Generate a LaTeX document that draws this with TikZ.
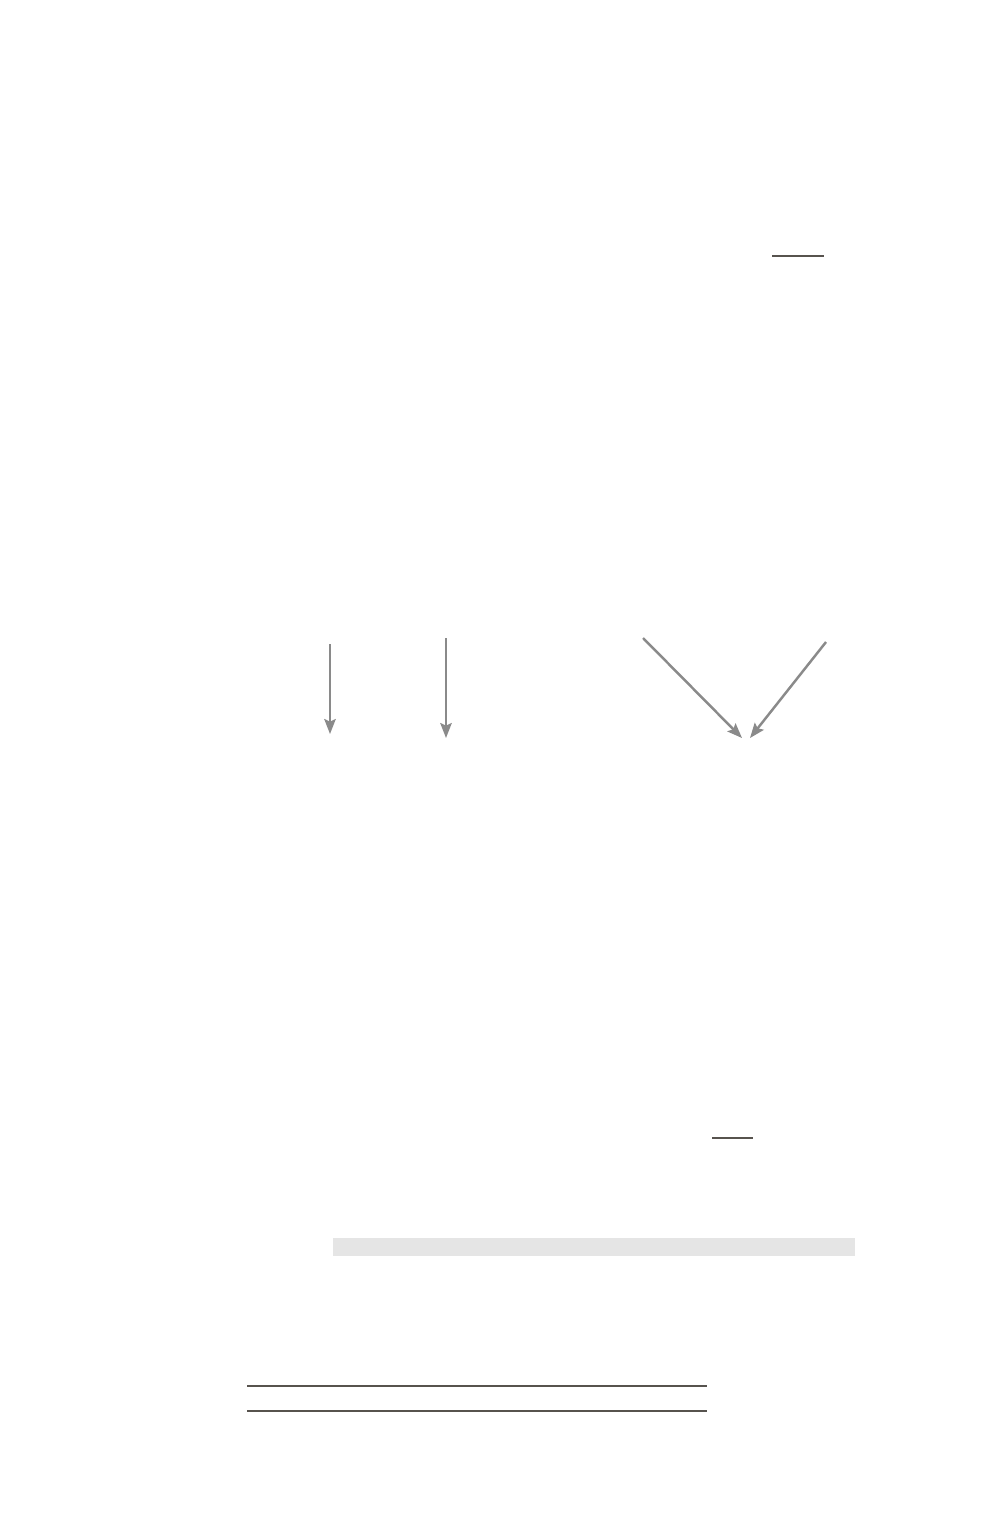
\documentclass[tikz,border=0pt]{standalone}
\usetikzlibrary{arrows.meta}
\definecolor{arrowgray}{HTML}{8A8A8A}
\definecolor{rulegray}{HTML}{57534E}
\definecolor{barfill}{HTML}{E5E5E5}
\begin{document}
\begin{tikzpicture}[x=0.02cm,y=-0.02cm,
        flow/.style={draw=arrowgray,line width=1.4pt,-{Stealth[length=8.5pt,width=6.5pt,inset=1.5pt]}},
        rule/.style={draw=rulegray,line width=1.1pt}]
        \useasboundingbox (0,0) rectangle (1000,1528);
        \coordinate (a1top) at (330,644);
        \coordinate (a1tip) at (330,734);
        \coordinate (a2top) at (446,638);
        \coordinate (a2tip) at (446,738);
        \coordinate (a3top) at (643,638);
        \coordinate (a3tip) at (742,738);
        \coordinate (a4top) at (826,642);
        \coordinate (a4tip) at (750,738);
        \draw[flow] (a1top) -- (a1tip);
        \draw[flow] (a2top) -- (a2tip);
        \draw[flow] (a3top) -- (a3tip);
        \draw[flow] (a4top) -- (a4tip);
        \draw[rule] (772,256) -- (824,256);
        \draw[rule] (712,1138) -- (753,1138);
        \fill[barfill] (333,1238) rectangle (855,1256);
        \draw[rule] (247,1386) -- (707,1386);
        \draw[rule] (247,1411) -- (707,1411);
    \end{tikzpicture}
\end{document}
